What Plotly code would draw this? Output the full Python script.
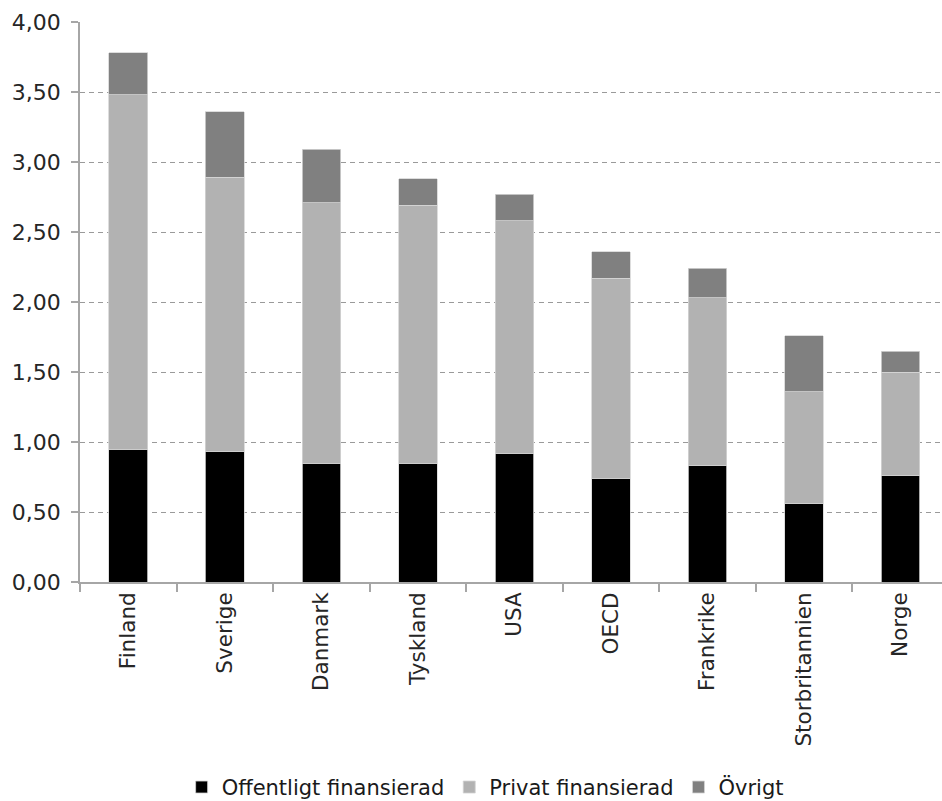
import plotly.graph_objects as go

# R&D expenditure as share of GDP, split by source of funding
countries = ["Finland", "Sverige", "Danmark", "Tyskland", "USA",
             "OECD", "Frankrike", "Storbritannien", "Norge"]
offentligt = [0.95, 0.93, 0.85, 0.85, 0.92, 0.74, 0.83, 0.56, 0.76]
privat = [2.53, 1.96, 1.86, 1.84, 1.66, 1.43, 1.20, 0.80, 0.74]
ovrigt = [0.30, 0.47, 0.38, 0.19, 0.19, 0.19, 0.21, 0.40, 0.15]

series = [
    ("Offentligt finansierad", offentligt, "#000000"),
    ("Privat finansierad", privat, "#b2b2b2"),
    ("Övrigt", ovrigt, "#808080"),
]

axis_color = "#a6a6a6"
text_color = "#262626"
font_family = "DejaVu Sans, Verdana, sans-serif"

fig = go.Figure()
for name, vals, color in series:
    fig.add_trace(go.Bar(
        name=name,
        x=countries,
        y=vals,
        marker=dict(color=color, line=dict(color="#d4d4d4", width=0.8)),
    ))

fig.update_layout(
    width=942,
    height=801,
    barmode="stack",
    bargap=0.6,
    separators=",.",
    paper_bgcolor="white",
    plot_bgcolor="white",
    margin=dict(l=80, r=0, t=22, b=219),
    font=dict(family=font_family, color=text_color, size=20),
    showlegend=True,
    legend=dict(
        orientation="h",
        xref="container", yref="container",
        x=0.515, xanchor="center",
        y=0.017, yanchor="middle",
        font=dict(size=21, color="#1a1a1a"),
        itemwidth=30,
        traceorder="normal",
    ),
    xaxis=dict(
        type="category",
        range=[-0.5, 8.43],
        showline=True,
        linecolor=axis_color,
        linewidth=1.5,
        ticks="outside",
        tickson="boundaries",
        ticklen=8,
        tickcolor=axis_color,
        tickwidth=1.5,
        tickangle=-90,
        tickfont=dict(size=21.5, color=text_color),
        showgrid=False,
    ),
    yaxis=dict(
        range=[0, 4],
        dtick=0.5,
        tickformat=".2f",
        showline=True,
        linecolor=axis_color,
        linewidth=1.5,
        ticks="outside",
        ticklen=7,
        tickcolor=axis_color,
        tickwidth=1.5,
        tickfont=dict(size=22, color=text_color),
        ticklabelstandoff=6,
        showgrid=True,
        gridcolor="#9a9a9a",
        gridwidth=1,
        griddash="5px,4px",
        zeroline=False,
    ),
)

fig.write_html("out.html")
